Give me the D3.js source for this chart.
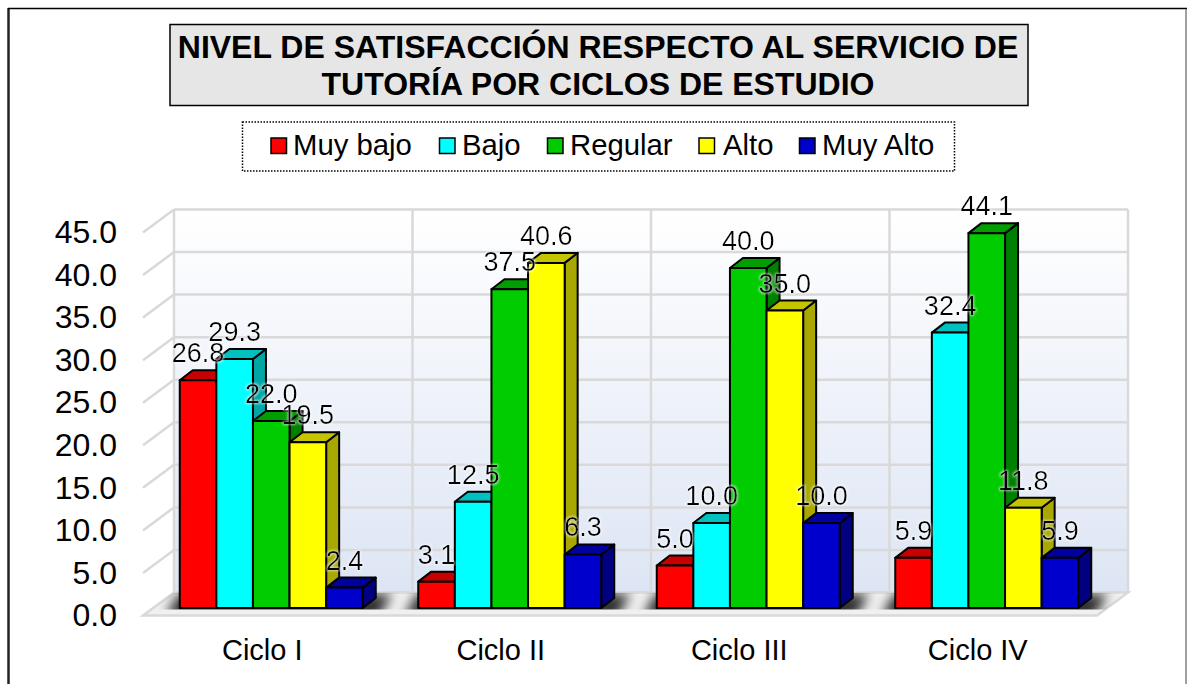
<!DOCTYPE html>
<html>
<head>
<meta charset="utf-8">
<script src="https://cdnjs.cloudflare.com/ajax/libs/d3/7.8.5/d3.min.js"></script>
<style>
    html, body { margin: 0; padding: 0; background: #fff; }
    svg { display: block; font-family: "Liberation Sans", Arial, sans-serif; }
</style>
</head>
<body>
<svg id="chart" width="1187" height="684"></svg>
<script>
const categories = ["Ciclo I", "Ciclo II", "Ciclo III", "Ciclo IV"];
const seriesNames = ["Muy bajo", "Bajo", "Regular", "Alto", "Muy Alto"];
const muyBajo = [26.8, 3.1, 5.0, 5.9];
const bajo = [29.3, 12.5, 10.0, 32.4];
const regular = [22.0, 37.5, 40.0, 44.1];
const alto = [19.5, 40.6, 35.0, 11.8];
const muyAlto = [2.4, 6.3, 10.0, 5.9];
const seriesValues = [muyBajo, bajo, regular, alto, muyAlto];
const yTicks = [0, 5, 10, 15, 20, 25, 30, 35, 40, 45];
const titleLines = ["NIVEL DE SATISFACCIÓN RESPECTO AL SERVICIO DE", "TUTORÍA POR CICLOS DE ESTUDIO"];

const frontColors = ["#ff0000", "#00ffff", "#00cc00", "#ffff00", "#0000cc"];
const topColors = ["#c80000", "#00c0c0", "#009e00", "#c4c400", "#00009e"];
const sideColors = ["#a00000", "#00a6a6", "#008000", "#a8a800", "#000080"];

const svg = d3.select("#chart");

// 箱の位置
const front = { left: 143, right: 1097, bottom: 615.5, top: 232.5 };
const wall = { dx: 31, dy: -23 };
const bar = { dx: 13, dy: -10, floor: 608, top: 225.5, shift: 9, width: 183 };

const yFront = d3.scaleLinear().domain([0, 45]).range([front.bottom, front.top]);
const yWall = d3.scaleLinear().domain([0, 45]).range([front.bottom + wall.dy, front.top + wall.dy]);
const yBar = d3.scaleLinear().domain([0, 45]).range([bar.floor, bar.top]);

const x0 = d3.scaleBand().domain(categories).range([front.left, front.right]);
const x1 = d3.scaleBand().domain(seriesNames).range([0, bar.width]);
const xWall = d3.scaleBand().domain(categories).range([front.left + wall.dx, front.right + wall.dx]);

const barLeft = (cat) => x0(cat) + (x0.bandwidth() - bar.width) / 2 + bar.shift;
const pts = (arr) => arr.map((p) => p.join(",")).join(" ");

const defs = svg.append("defs");
const wallGrad = defs.append("linearGradient")
    .attr("id", "wallGrad").attr("x1", 0).attr("y1", 0).attr("x2", 0).attr("y2", 1);
wallGrad.append("stop").attr("offset", "0%").attr("stop-color", "#ffffff");
wallGrad.append("stop").attr("offset", "100%").attr("stop-color", "#dde5f4");

defs.append("filter").attr("id", "shadowBlur")
    .attr("x", "-20%").attr("y", "-150%").attr("width", "140%").attr("height", "400%")
    .append("feGaussianBlur").attr("stdDeviation", 6);

const glow = defs.append("filter").attr("id", "labelGlow")
    .attr("x", "-20%").attr("y", "-30%").attr("width", "140%").attr("height", "160%");
glow.append("feMorphology").attr("in", "SourceAlpha").attr("operator", "dilate").attr("radius", 1).attr("result", "fat");
glow.append("feGaussianBlur").attr("in", "fat").attr("stdDeviation", 1.2).attr("result", "soft");
glow.append("feFlood").attr("flood-color", "#ffffff").attr("flood-opacity", 0.55);
glow.append("feComposite").attr("in2", "soft").attr("operator", "in").attr("result", "halo");
const glowMerge = glow.append("feMerge");
glowMerge.append("feMergeNode").attr("in", "halo");
glowMerge.append("feMergeNode").attr("in", "SourceGraphic");

const floorPoints = [
    [front.left, front.bottom],
    [front.right, front.bottom],
    [front.right + wall.dx, front.bottom + wall.dy],
    [front.left + wall.dx, front.bottom + wall.dy],
];
defs.append("clipPath").attr("id", "floorClip").append("polygon").attr("points", pts(floorPoints));
defs.append("clipPath").attr("id", "shadowClip").append("rect")
    .attr("x", front.left).attr("y", front.bottom + wall.dy)
    .attr("width", front.right + wall.dx - front.left).attr("height", bar.floor + 1.5 - front.bottom - wall.dy);

// 枠
svg.append("line").attr("x1", 8.5).attr("x2", 8.5).attr("y1", 8).attr("y2", 684)
    .attr("stroke", "#222").attr("stroke-width", 2.5);
svg.append("line").attr("x1", 8).attr("x2", 1187).attr("y1", 8.5).attr("y2", 8.5)
    .attr("stroke", "#000").attr("stroke-width", 1.5);
svg.append("line").attr("x1", 1186).attr("x2", 1186).attr("y1", 9).attr("y2", 684)
    .attr("stroke", "#808080").attr("stroke-width", 1.5);

// 背面の壁
svg.append("rect")
    .attr("x", front.left + wall.dx).attr("y", yWall(45))
    .attr("width", front.right - front.left).attr("height", yWall(0) - yWall(45))
    .attr("fill", "url(#wallGrad)");

const gridColor = "#d9d9d9";
const grid = svg.append("g").attr("fill", "none").attr("stroke", gridColor).attr("stroke-width", 2.5);

grid.selectAll(".back")
    .data(yTicks)
    .join("line")
    .attr("x1", front.left + wall.dx).attr("x2", front.right + wall.dx)
    .attr("y1", (d) => yWall(d)).attr("y2", (d) => yWall(d));

grid.selectAll(".side")
    .data(yTicks.slice(1))
    .join("polyline")
    .attr("points", (d) => pts([[front.left, yFront(d)], [front.left + wall.dx, yWall(d)]]));

grid.selectAll(".vert")
    .data(categories.concat(["end"]))
    .join("line")
    .attr("x1", (d) => (d === "end" ? front.right + wall.dx : xWall(d)))
    .attr("x2", (d) => (d === "end" ? front.right + wall.dx : xWall(d)))
    .attr("y1", yWall(45)).attr("y2", yWall(0));

// 床
svg.append("polygon")
    .attr("points", pts(floorPoints))
    .attr("fill", "#f0f0f0").attr("stroke", gridColor).attr("stroke-width", 2.5);

// 床の影
svg.append("g").attr("clip-path", "url(#floorClip)")
    .append("g").attr("clip-path", "url(#shadowClip)")
    .selectAll("polygon")
    .data(categories)
    .join("polygon")
    .attr("points", (d) => {
        const l = barLeft(d), r = l + bar.width;
        return pts([[l - 14, bar.floor + 10], [r + 16, bar.floor + 10], [r + bar.dx + 16, bar.floor + bar.dy - 4], [l - 2, bar.floor + bar.dy - 4]]);
    })
    .attr("fill", "#000")
    .attr("fill-opacity", 0.8)
    .attr("filter", "url(#shadowBlur)");

// 棒
const bars = svg.append("g").attr("stroke", "#000").attr("stroke-width", 2).attr("stroke-linejoin", "round");
categories.forEach((cat, c) => {
    seriesNames.forEach((name, s) => {
        const v = seriesValues[s][c];
        const l = barLeft(cat) + x1(name);
        const r = l + x1.bandwidth();
        const t = yBar(v);
        const b = yBar(0);
        bars.append("polygon")
            .attr("fill", sideColors[s])
            .attr("points", pts([[r, t], [r + bar.dx, t + bar.dy], [r + bar.dx, b + bar.dy], [r, b]]));
        bars.append("polygon")
            .attr("fill", topColors[s])
            .attr("points", pts([[l, t], [r, t], [r + bar.dx, t + bar.dy], [l + bar.dx, t + bar.dy]]));
        bars.append("rect")
            .attr("fill", frontColors[s])
            .attr("x", l).attr("y", t).attr("width", r - l).attr("height", b - t);
    });
});

// データラベル
const labels = svg.append("g")
    .attr("font-size", 27).attr("fill", "#000").attr("text-anchor", "middle")
    .attr("filter", "url(#labelGlow)");
categories.forEach((cat, c) => {
    seriesNames.forEach((name, s) => {
        const v = seriesValues[s][c];
        labels.append("text")
            .attr("x", barLeft(cat) + x1(name) + x1.bandwidth() / 2)
            .attr("y", yBar(v) - 18)
            .text(d3.format(".1f")(v));
    });
});

// 軸
const fontName = '"Liberation Sans", Arial, sans-serif';
const yAxis = svg.append("g")
    .attr("transform", "translate(126,0)")
    .call(d3.axisLeft(yFront).tickValues(yTicks).tickSize(0).tickPadding(9).tickFormat(d3.format(".1f")))
    .attr("font-family", fontName).attr("font-size", 32);
yAxis.select(".domain").remove();
yAxis.selectAll("text").attr("fill", "#000");

const xAxis = svg.append("g")
    .attr("transform", `translate(0,${front.bottom})`)
    .call(d3.axisBottom(x0).tickSize(0).tickPadding(24))
    .attr("font-family", fontName).attr("font-size", 29);
xAxis.select(".domain").remove();
xAxis.selectAll("text").attr("fill", "#000");

// タイトル
svg.append("rect")
    .attr("x", 170).attr("y", 24.5).attr("width", 858).attr("height", 81)
    .attr("fill", "#e6e6e6").attr("stroke", "#000").attr("stroke-width", 1.5);
svg.append("g")
    .attr("text-anchor", "middle").attr("font-weight", "bold").attr("font-size", 32)
    .selectAll("text")
    .data(titleLines)
    .join("text")
    .attr("x", 598)
    .attr("y", (d, i) => 58 + i * 37)
    .text((d) => d);

// 凡例
svg.append("rect")
    .attr("x", 242.5).attr("y", 122).attr("width", 712).attr("height", 49)
    .attr("fill", "#fff").attr("stroke", "#000").attr("stroke-width", 1.5).attr("stroke-dasharray", "1.5 1.5");

const legendX = d3.scaleOrdinal().domain(seriesNames).range([271, 439.5, 547.5, 699, 799.5]);
const legendTextX = d3.scaleOrdinal().domain(seriesNames).range([293, 462, 570, 723, 822]);
const legend = svg.append("g").selectAll("g").data(seriesNames).join("g");
legend.append("rect")
    .attr("x", (d) => legendX(d)).attr("y", 138)
    .attr("width", 15.5).attr("height", 15.5)
    .attr("fill", (d, i) => frontColors[i]).attr("stroke", "#000").attr("stroke-width", 1.5);
legend.append("text")
    .attr("x", (d) => legendTextX(d)).attr("y", 155).attr("font-size", 29.3).text((d) => d);
</script>
</body>
</html>
